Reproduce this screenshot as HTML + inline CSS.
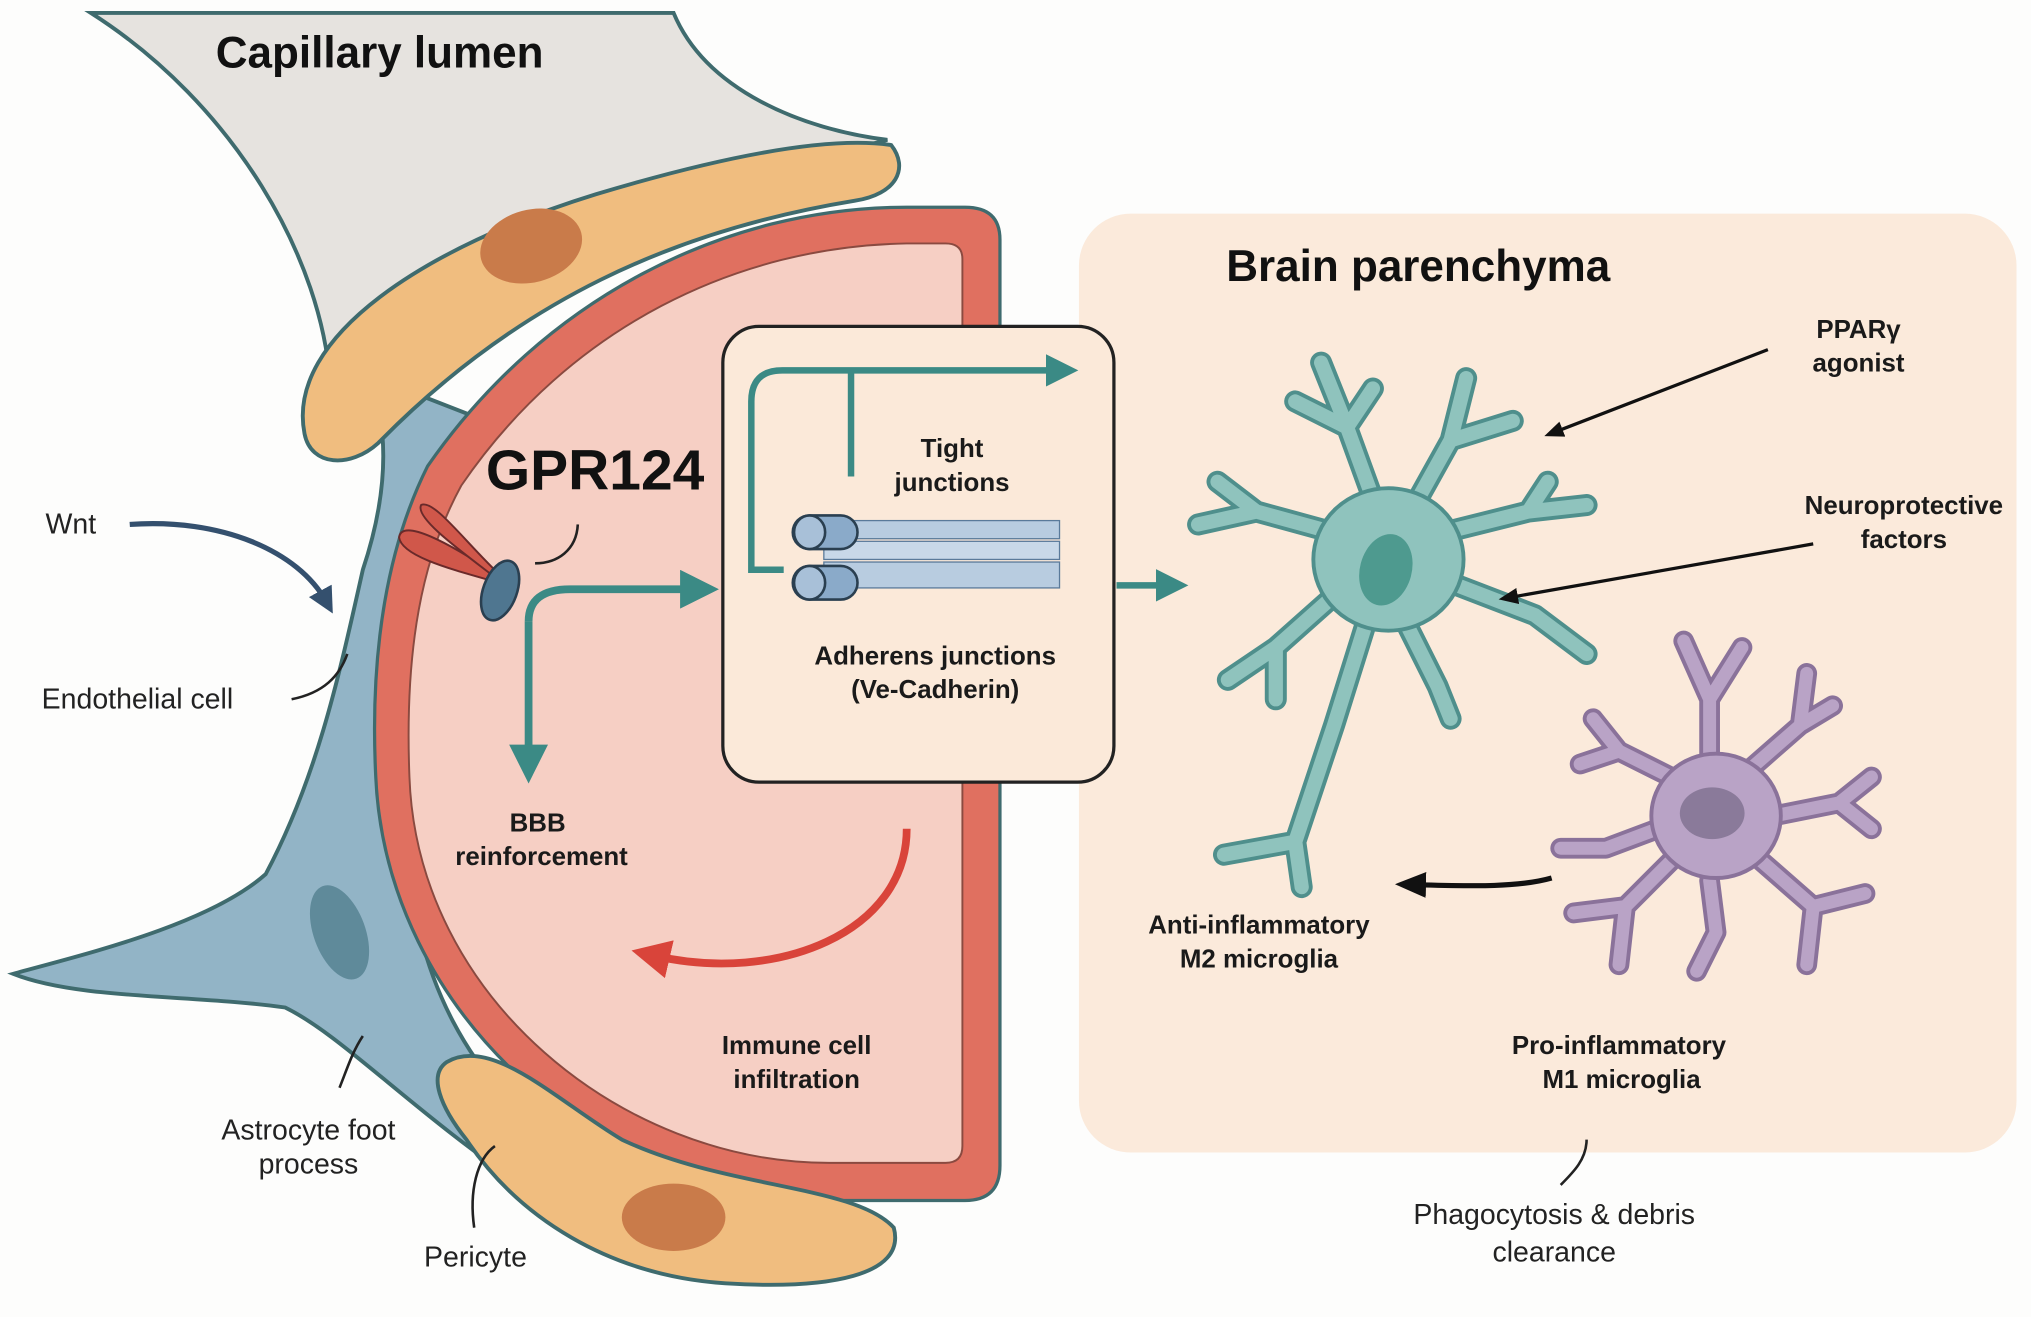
<!DOCTYPE html>
<html><head><meta charset="utf-8"><style>
html,body{margin:0;padding:0;background:#fdfdfc;}
svg{display:block;}
text{font-family:"Liberation Sans",sans-serif;}
.b{font-weight:bold;fill:#1a1a1a;}
.n{fill:#222;}
</style></head><body>
<svg width="2031" height="1317" viewBox="0 0 1568 1017" xmlns="http://www.w3.org/2000/svg">
<defs>
<marker id="ta" markerWidth="5" markerHeight="5" refX="2.5" refY="2.5" orient="auto" markerUnits="strokeWidth"><path d="M0,0 L5,2.5 L0,5 Z" fill="#3b8a85"/></marker>
<marker id="ka" markerWidth="6" markerHeight="5" refX="4" refY="2.5" orient="auto" markerUnits="strokeWidth"><path d="M0,0 L6,2.5 L0,5 Z" fill="#111"/></marker>
<marker id="ra" markerWidth="5" markerHeight="5" refX="2" refY="2.5" orient="auto" markerUnits="strokeWidth"><path d="M0,0 L5,2.5 L0,5 Z" fill="#d9443a"/></marker>
<marker id="wa" markerWidth="5" markerHeight="5" refX="2.5" refY="2.5" orient="auto" markerUnits="strokeWidth"><path d="M0,0 L5,2.5 L0,5 Z" fill="#34506e"/></marker>
</defs>
<rect width="1568" height="1017" fill="#fdfdfc"/>
<!-- brain parenchyma -->
<rect x="833" y="165" width="724" height="725" rx="40" fill="#fbeadb"/>
<!-- grey lumen -->
<path d="M70,10 L520,10 C545,70 620,100 685,108 L600,130 C430,150 300,220 255,300 C250,200 180,80 70,10 Z" fill="#e6e3df" stroke="#3f6b6e" stroke-width="3"/>
<!-- astrocyte -->
<path d="M285,290 C300,330 300,380 280,440 C262,520 245,600 205,675 C160,715 60,738 10,752 C60,772 150,768 220,778 C265,800 320,860 410,920 L445,900 C360,830 320,760 312,640 C305,520 322,400 362,320 Z" fill="#92b4c6" stroke="#3f6b6e" stroke-width="3"/>
<ellipse cx="262" cy="720" rx="20" ry="38" transform="rotate(-20 262 720)" fill="#5f8a9a"/>
<!-- top pericyte -->
<path d="M235,335 C220,260 330,190 460,150 C560,120 640,105 688,112 C702,130 692,150 660,155 C520,178 400,232 292,342 C270,362 240,360 235,335 Z" fill="#f0bd7f" stroke="#3f6b6e" stroke-width="3"/>
<ellipse cx="410" cy="190" rx="40" ry="28" transform="rotate(-15 410 190)" fill="#c97b4a"/>
<!-- red D -->
<path d="M330,360 C420,230 560,160 700,160 L745,160 Q772,160 772,185 L772,900 Q772,927 745,927 L640,927 C460,927 298,780 290,600 C285,500 300,420 330,360 Z" fill="#e07060" stroke="#3f6b6e" stroke-width="2.5"/>
<path d="M356,375 C440,252 570,190 700,188 L730,188 Q743,188 743,200 L743,885 Q743,898 730,898 L640,898 C480,898 322,770 316,600 C312,500 326,430 356,375 Z" fill="#f6cfc4" stroke="#8a4a40" stroke-width="1.5"/>
<!-- bottom pericyte -->
<path d="M345,820 C380,800 430,850 480,880 C560,918 660,915 690,948 C700,985 640,996 560,991 C470,985 400,940 360,880 C340,855 330,830 345,820 Z" fill="#f0bd7f" stroke="#3f6b6e" stroke-width="3"/>
<ellipse cx="520" cy="940" rx="40" ry="26" fill="#c97b4a"/>
<!-- GPR124 receptor -->
<path d="M385,450 C350,440 310,430 308,415 C310,400 345,418 385,445 Z" fill="#d0574a" stroke="#6a2a2a" stroke-width="1.5"/>
<path d="M385,448 C355,425 320,400 325,390 C335,385 360,420 388,446 Z" fill="#d0574a" stroke="#6a2a2a" stroke-width="1.5"/>
<ellipse cx="386" cy="456" rx="13" ry="24" transform="rotate(20 386 456)" fill="#4f7690" stroke="#2a3f50" stroke-width="2"/>
<path d="M413,435 C430,435 445,425 446,405" fill="none" stroke="#222" stroke-width="2"/>
<text x="375" y="378" font-size="44" font-weight="bold" fill="#111">GPR124</text>
<!-- GPR arrows -->
<path d="M408,480 Q408,455 440,455 L540,455" fill="none" stroke="#3b8a85" stroke-width="6" marker-end="url(#ta)"/>
<path d="M408,480 L408,590" fill="none" stroke="#3b8a85" stroke-width="6" marker-end="url(#ta)"/>
<text x="415" y="642" font-size="20" class="b" text-anchor="middle">BBB</text>
<text x="418" y="668" font-size="20" class="b" text-anchor="middle">reinforcement</text>
<!-- red arrow -->
<path d="M700,640 C700,720 600,760 505,738" fill="none" stroke="#d9443a" stroke-width="6" marker-end="url(#ra)"/>
<text x="615" y="814" font-size="20" class="b" text-anchor="middle">Immune cell</text>
<text x="615" y="840" font-size="20" class="b" text-anchor="middle">infiltration</text>
<!-- box -->
<rect x="558" y="252" width="302" height="352" rx="28" fill="#fbe9d9" stroke="#222" stroke-width="2.5"/>
<path d="M605,440 L580,440 L580,310 Q580,286 604,286 L820,286" fill="none" stroke="#3b8a85" stroke-width="5" marker-end="url(#ta)"/>
<line x1="657" y1="288" x2="657" y2="368" stroke="#3b8a85" stroke-width="5"/>
<rect x="636" y="402" width="182" height="14" fill="#b8cce0" stroke="#5a7a9a" stroke-width="1"/>
<rect x="636" y="418" width="182" height="14" fill="#c8d8e8" stroke="#5a7a9a" stroke-width="1"/>
<rect x="636" y="434" width="182" height="20" fill="#b8cce0" stroke="#5a7a9a" stroke-width="1"/>
<rect x="612" y="398" width="50" height="26" rx="13" fill="#8aaac9" stroke="#2a3f50" stroke-width="2"/>
<ellipse cx="625" cy="411" rx="12" ry="13" fill="#a8c0d8" stroke="#2a3f50" stroke-width="2"/>
<rect x="612" y="437" width="50" height="26" rx="13" fill="#8aaac9" stroke="#2a3f50" stroke-width="2"/>
<ellipse cx="625" cy="450" rx="12" ry="13" fill="#a8c0d8" stroke="#2a3f50" stroke-width="2"/>
<text x="735" y="353" font-size="20" class="b" text-anchor="middle">Tight</text>
<text x="735" y="379" font-size="20" class="b" text-anchor="middle">junctions</text>
<text x="722" y="513" font-size="20" class="b" text-anchor="middle">Adherens junctions</text>
<text x="722" y="539" font-size="20" class="b" text-anchor="middle">(Ve-Cadherin)</text>
<line x1="862" y1="452" x2="905" y2="452" stroke="#3b8a85" stroke-width="5" marker-end="url(#ta)"/>
<!-- labels left -->
<text x="35" y="412" font-size="22" class="n">Wnt</text>
<path d="M100,405 C170,400 230,425 252,465" fill="none" stroke="#34506e" stroke-width="4" marker-end="url(#wa)"/>
<text x="32" y="547" font-size="22" class="n">Endothelial cell</text>
<path d="M225,540 C250,535 262,522 268,505" fill="none" stroke="#222" stroke-width="2"/>
<text x="238" y="880" font-size="22" class="n" text-anchor="middle">Astrocyte foot</text>
<text x="238" y="906" font-size="22" class="n" text-anchor="middle">process</text>
<path d="M262,840 C268,825 272,812 280,800" fill="none" stroke="#222" stroke-width="2"/>
<text x="367" y="978" font-size="22" class="n" text-anchor="middle">Pericyte</text>
<path d="M366,948 C362,920 368,895 382,885" fill="none" stroke="#222" stroke-width="2"/>
<text x="293" y="52" font-size="34" font-weight="bold" fill="#111" text-anchor="middle">Capillary lumen</text>
<text x="1095" y="217" font-size="34" font-weight="bold" fill="#111" text-anchor="middle">Brain parenchyma</text>
<!-- teal microglia -->
<g stroke-linecap="round" stroke-linejoin="round" fill="none">
<g stroke="#4f8f8c" stroke-width="17">
<path d="M1060,385 L1040,330 L1020,280 M1040,330 L1000,310 M1040,330 L1060,300"/>
<path d="M1095,385 L1120,340 L1132,292 M1120,340 L1168,325"/>
<path d="M1120,410 L1180,395 L1225,390 M1180,395 L1195,372"/>
<path d="M1120,450 L1185,475 L1225,505"/>
<path d="M1085,480 L1110,530 L1120,555"/>
<path d="M1025,410 L970,395 L925,405 M970,395 L940,372"/>
<path d="M1030,460 L985,500 L948,525 M985,500 L985,540"/>
<path d="M1055,480 L1030,560 L1000,650 L945,660 M1000,650 L1005,685"/>
</g>
<g stroke="#8fc3bd" stroke-width="11">
<path d="M1060,385 L1040,330 L1020,280 M1040,330 L1000,310 M1040,330 L1060,300"/>
<path d="M1095,385 L1120,340 L1132,292 M1120,340 L1168,325"/>
<path d="M1120,410 L1180,395 L1225,390 M1180,395 L1195,372"/>
<path d="M1120,450 L1185,475 L1225,505"/>
<path d="M1085,480 L1110,530 L1120,555"/>
<path d="M1025,410 L970,395 L925,405 M970,395 L940,372"/>
<path d="M1030,460 L985,500 L948,525 M985,500 L985,540"/>
<path d="M1055,480 L1030,560 L1000,650 L945,660 M1000,650 L1005,685"/>
</g>
</g>
<ellipse cx="1072" cy="432" rx="58" ry="55" fill="#8fc3bd" stroke="#4f8f8c" stroke-width="3"/>
<ellipse cx="1070" cy="440" rx="20" ry="28" transform="rotate(15 1070 440)" fill="#4e9a8f"/>
<!-- purple microglia -->
<g stroke-linecap="round" stroke-linejoin="round" fill="none">
<g stroke="#8a729a" stroke-width="16">
<path d="M1320,585 L1320,540 L1300,495 M1320,540 L1345,500"/>
<path d="M1350,595 L1390,560 L1395,520 M1390,560 L1415,545"/>
<path d="M1370,630 L1420,620 L1445,600 M1420,620 L1445,640"/>
<path d="M1360,665 L1400,700 L1395,745 M1400,700 L1440,690"/>
<path d="M1320,680 L1325,720 L1310,750"/>
<path d="M1290,665 L1255,700 L1250,745 M1255,700 L1215,705"/>
<path d="M1280,640 L1240,655 L1205,655"/>
<path d="M1290,600 L1250,580 L1230,555 M1250,580 L1220,590"/>
</g>
<g stroke="#b9a3c6" stroke-width="10">
<path d="M1320,585 L1320,540 L1300,495 M1320,540 L1345,500"/>
<path d="M1350,595 L1390,560 L1395,520 M1390,560 L1415,545"/>
<path d="M1370,630 L1420,620 L1445,600 M1420,620 L1445,640"/>
<path d="M1360,665 L1400,700 L1395,745 M1400,700 L1440,690"/>
<path d="M1320,680 L1325,720 L1310,750"/>
<path d="M1290,665 L1255,700 L1250,745 M1255,700 L1215,705"/>
<path d="M1280,640 L1240,655 L1205,655"/>
<path d="M1290,600 L1250,580 L1230,555 M1250,580 L1220,590"/>
</g>
</g>
<ellipse cx="1325" cy="630" rx="50" ry="48" fill="#b9a3c6" stroke="#8a729a" stroke-width="3"/>
<ellipse cx="1322" cy="628" rx="25" ry="20" fill="#8a7a9a"/>
<!-- right labels/arrows -->
<text x="1435" y="261" font-size="20" class="b" text-anchor="middle">PPARγ</text>
<text x="1435" y="287" font-size="20" class="b" text-anchor="middle">agonist</text>
<line x1="1365" y1="270" x2="1197" y2="335" stroke="#111" stroke-width="2.5" marker-end="url(#ka)"/>
<text x="1470" y="397" font-size="20" class="b" text-anchor="middle">Neuroprotective</text>
<text x="1470" y="423" font-size="20" class="b" text-anchor="middle">factors</text>
<line x1="1400" y1="420" x2="1162" y2="462" stroke="#111" stroke-width="2.5" marker-end="url(#ka)"/>
<path d="M1198,678 C1170,686 1130,684 1085,683" fill="none" stroke="#111" stroke-width="4" marker-end="url(#ka)"/>
<text x="972" y="721" font-size="20" class="b" text-anchor="middle">Anti-inflammatory</text>
<text x="972" y="747" font-size="20" class="b" text-anchor="middle">M2 microglia</text>
<text x="1250" y="814" font-size="20" class="b" text-anchor="middle">Pro-inflammatory</text>
<text x="1252" y="840" font-size="20" class="b" text-anchor="middle">M1 microglia</text>
<path d="M1205,915 C1215,905 1225,895 1225,880" fill="none" stroke="#222" stroke-width="2"/>
<text x="1200" y="945" font-size="22" class="n" text-anchor="middle">Phagocytosis &amp; debris</text>
<text x="1200" y="974" font-size="22" class="n" text-anchor="middle">clearance</text>
</svg>
</body></html>
